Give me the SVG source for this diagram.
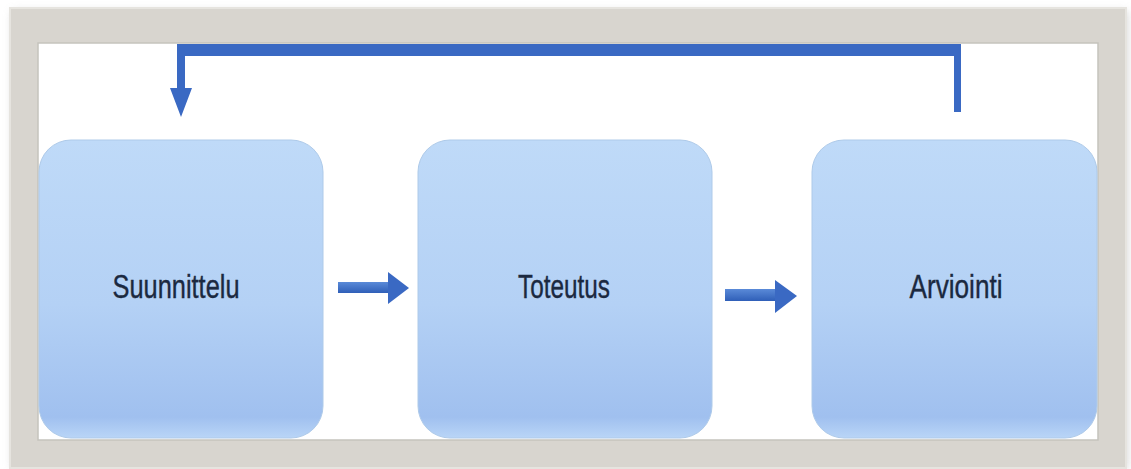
<svg xmlns="http://www.w3.org/2000/svg" width="1131" height="469" viewBox="0 0 1131 469">
  <defs>
    <linearGradient id="boxFill" x1="0" y1="0" x2="0" y2="1">
      <stop offset="0" stop-color="#bfdaf8"/>
      <stop offset="0.55" stop-color="#b4d1f5"/>
      <stop offset="0.93" stop-color="#a0c0ef"/>
      <stop offset="1" stop-color="#b9d5f7"/>
    </linearGradient>
    <linearGradient id="shaft" x1="0" y1="0" x2="0" y2="1">
      <stop offset="0" stop-color="#5a8ad8"/>
      <stop offset="1" stop-color="#2f5fb8"/>
    </linearGradient>
    <filter id="shadow" x="-5%" y="-5%" width="110%" height="115%">
      <feGaussianBlur stdDeviation="4"/>
    </filter>
  </defs>
  <style>
    .box { fill: url(#boxFill); stroke: #aecae9; stroke-width: 1; }
    .label { font-family: "Liberation Sans", "Open Sans", sans-serif; font-size: 34px; fill: #1b2940; stroke: #1b2940; stroke-width: 0.4; text-anchor: middle; }
    .conn { fill: #3a69c3; }
  </style>
  <rect width="1131" height="469" fill="#ffffff"/>
  <!-- frame -->
  <g id="frame">
    <rect x="12" y="11" width="1116" height="458" fill="#bdbdbd" filter="url(#shadow)" opacity="0.6"/>
    <rect x="10" y="8" width="1116" height="460" fill="#d8d5cf"/>
    <rect x="10" y="8" width="1116" height="460" fill="none" stroke="#e6e4df" stroke-width="2"/>
    <rect x="38" y="43" width="1060" height="397" fill="#ffffff" stroke="#c5c3bd" stroke-width="1.5"/>
  </g>
  <!-- nodes -->
  <g id="node-suunnittelu">
    <rect class="box" x="39" y="140" width="284" height="298" rx="32" ry="32"/>
    <text class="label" x="176" y="298" textLength="127" lengthAdjust="spacingAndGlyphs">Suunnittelu</text>
  </g>
  <g id="node-toteutus">
    <rect class="box" x="418" y="140" width="294" height="298" rx="32" ry="32"/>
    <text class="label" x="564" y="298" textLength="92" lengthAdjust="spacingAndGlyphs">Toteutus</text>
  </g>
  <g id="node-arviointi">
    <rect class="box" x="812" y="140" width="285" height="298" rx="32" ry="32"/>
    <text class="label" x="956" y="298" textLength="93" lengthAdjust="spacingAndGlyphs">Arviointi</text>
  </g>
  <!-- connectors -->
  <g id="connectors">
    <!-- Suunnittelu -> Toteutus -->
    <rect x="338" y="282" width="52" height="11" fill="url(#shaft)"/>
    <polygon class="conn" points="388,272 409,288 388,304"/>
    <!-- Toteutus -> Arviointi -->
    <rect x="725" y="289" width="52" height="12" fill="url(#shaft)"/>
    <polygon class="conn" points="775,280 797,296 775,313"/>
    <!-- Arviointi -> Suunnittelu (feedback) -->
    <polygon class="conn" points="177,44 961,44 961,112 954,112 954,56 185,56 185,88 192,88 181,117 170,88 177,88"/>
  </g>
</svg>
